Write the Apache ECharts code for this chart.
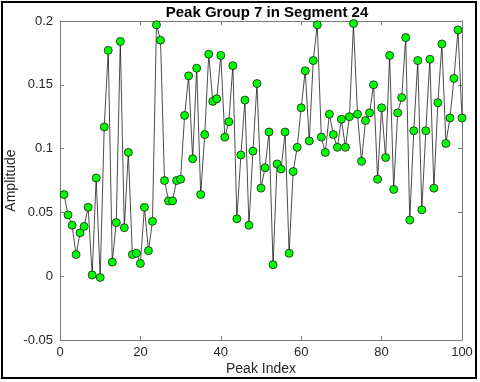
<!DOCTYPE html>
<html>
<head>
<meta charset="utf-8">
<script src="https://cdn.jsdelivr.net/npm/echarts@6/dist/echarts.min.js"></script>
<style>
  html, body { margin: 0; padding: 0; background: #fff; }
</style>
</head>
<body>
<div id="main" style="width:480px;height:382px;"></div>
<script type="text/javascript">
    // 峰值幅度数据 (index 1..100)
    var titleText = 'Peak Group 7 in Segment 24';
    var xTicks = [0, 20, 40, 60, 80, 100];
    var yTicks = [-0.05, 0, 0.05, 0.1, 0.15, 0.2];
    var amplitude = [
        0.064, 0.048, 0.040, 0.017, 0.034, 0.039, 0.054, 0.001, 0.077, -0.001,
        0.117, 0.177, 0.011, 0.042, 0.184, 0.038, 0.097, 0.017, 0.018, 0.010,
        0.054, 0.020, 0.043, 0.197, 0.185, 0.075, 0.059, 0.059, 0.075, 0.076,
        0.126, 0.157, 0.092, 0.163, 0.064, 0.111, 0.174, 0.137, 0.139, 0.173,
        0.109, 0.121, 0.165, 0.045, 0.095, 0.138, 0.040, 0.098, 0.151, 0.069,
        0.085, 0.113, 0.009, 0.088, 0.084, 0.113, 0.018, 0.082, 0.101, 0.132,
        0.161, 0.106, 0.169, 0.197, 0.109, 0.097, 0.127, 0.111, 0.101, 0.123,
        0.101, 0.125, 0.198, 0.127, 0.090, 0.122, 0.128, 0.150, 0.076, 0.132,
        0.093, 0.173, 0.068, 0.128, 0.140, 0.187, 0.044, 0.114, 0.169, 0.052,
        0.114, 0.170, 0.069, 0.136, 0.182, 0.104, 0.124, 0.155, 0.193, 0.124
    ];

    var points = [];
    for (var i = 0; i < amplitude.length; i++) {
        points.push([i + 1, amplitude[i]]);
    }

    var myChart = echarts.init(document.getElementById('main'));

    var axisColor = '#7a7a7a';
    var labelColor = '#262626';
    var font = 'Liberation Sans, Arial, sans-serif';

    var option = {
        animation: false,
        backgroundColor: '#fff',
        title: {
            text: titleText,
            left: 262,
            top: 0,
            textAlign: 'center',
            textStyle: { fontFamily: font, fontSize: 15, fontWeight: 'bold', color: '#000' }
        },
        graphic: [{
            type: 'rect',
            shape: { x: 2, y: 2, width: 474, height: 376 },
            style: { fill: 'none', stroke: '#000', lineWidth: 2 },
            silent: true
        }],
        grid: { left: 60, top: 21, width: 402, height: 319, containLabel: false, outerBoundsMode: 'none' },
        xAxis: [{
            type: 'value',
            min: xTicks[0],
            max: xTicks[xTicks.length - 1],
            interval: 20,
            name: 'Peak Index',
            nameLocation: 'middle',
            nameGap: 22,
            nameMoveOverlap: false,
            nameTextStyle: { fontFamily: font, fontSize: 14, color: labelColor },
            axisLine: { onZero: false, lineStyle: { color: axisColor, width: 1 } },
            axisTick: { inside: true, length: 4, lineStyle: { color: axisColor } },
            axisLabel: { fontFamily: font, fontSize: 13, color: labelColor, margin: 6 },
            splitLine: { show: false }
        }, {
            type: 'value',
            position: 'top',
            min: xTicks[0],
            max: xTicks[xTicks.length - 1],
            interval: 20,
            axisLine: { onZero: false, lineStyle: { color: axisColor, width: 1 } },
            axisTick: { inside: true, length: 4, lineStyle: { color: axisColor } },
            axisLabel: { show: false },
            splitLine: { show: false }
        }],
        yAxis: [{
            type: 'value',
            min: yTicks[0],
            max: yTicks[yTicks.length - 1],
            interval: 0.05,
            name: 'Amplitude',
            nameLocation: 'middle',
            nameGap: 42,
            nameMoveOverlap: false,
            nameTextStyle: { fontFamily: font, fontSize: 14, color: labelColor },
            axisLine: { show: true, onZero: false, lineStyle: { color: axisColor, width: 1 } },
            axisTick: { show: true, inside: true, length: 4, lineStyle: { color: axisColor } },
            axisLabel: { fontFamily: font, fontSize: 13, color: labelColor, margin: 7 },
            splitLine: { show: false }
        }, {
            type: 'value',
            position: 'right',
            min: yTicks[0],
            max: yTicks[yTicks.length - 1],
            interval: 0.05,
            axisLine: { show: true, onZero: false, lineStyle: { color: axisColor, width: 1 } },
            axisTick: { show: true, inside: true, length: 4, lineStyle: { color: axisColor } },
            axisLabel: { show: false },
            splitLine: { show: false }
        }],
        series: [{
            name: 'amplitude',
            type: 'line',
            data: points,
            symbol: 'circle',
            symbolSize: 8,
            showAllSymbol: true,
            lineStyle: { color: '#000', width: 0.7 },
            itemStyle: { color: '#00ff00', borderColor: '#1a1a1a', borderWidth: 0.8 }
        }]
    };

    myChart.setOption(option);
</script>
</body>
</html>
